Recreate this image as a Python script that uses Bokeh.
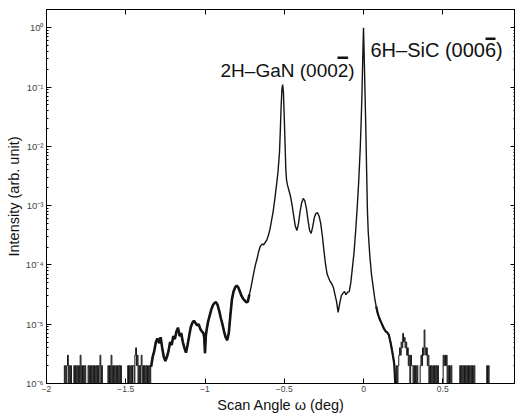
import numpy as np
from bokeh.plotting import figure
from bokeh.models import (LinearAxis, LogAxis, FixedTicker, CustomJSTickFormatter,
                          Label, Range1d)
from bokeh.embed import file_html
from bokeh.resources import INLINE

# ---------------- data ----------------
# noise floor (counts in units of 1e-6) left of the signal, sampled every 0.005 deg
left_start = -1.89
left_step = 0.005
left_counts = [2, 1, 2, 1, 2, 3, 1, 2, 1, 2,
               1, 1, 1, 2, 1, 2, 1, 2, 1, 2,
               1, 3, 1, 2, 1, 2, 1, 2, 1, 1,
               1, 2, 1, 2, 1, 2, 1, 2, 1, 2,
               1, 2, 1, 2, 1, 2, 3, 1, 2, 1,
               1, 1, 1, 1, 1, 1, 2, 1, 2, 1,
               3, 1, 2, 1, 2, 1, 2, 1, 2, 1,
               2, 1, 2, 1, 1, 1, 1, 1, 1, 1,
               1, 2, 1, 2, 1, 2, 1, 2, 2, 1,
               3, 4, 2, 3, 1, 2, 1, 2, 3, 1,
               2, 1, 2, 1, 2, 1, 2, 1, 2, 1]

# main signal: scan angle (deg) and log10(intensity)
main_x = [-1.34, -1.33, -1.32, -1.31, -1.30, -1.29, -1.28, -1.27, -1.26, -1.25,
          -1.24, -1.23, -1.22, -1.21, -1.20, -1.19, -1.18, -1.17, -1.16, -1.15,
          -1.14, -1.13, -1.12, -1.11, -1.10, -1.09, -1.08, -1.07, -1.06, -1.05,
          -1.04, -1.03, -1.02, -1.01, -1.005, -1.00, -0.995, -0.99, -0.98, -0.97,
          -0.96, -0.95, -0.94, -0.93, -0.92, -0.91, -0.90, -0.89, -0.88, -0.87,
          -0.86, -0.85, -0.84, -0.83, -0.82, -0.81, -0.80, -0.79, -0.78, -0.77,
          -0.76, -0.75, -0.74, -0.73, -0.72, -0.71, -0.70, -0.69, -0.68, -0.67,
          -0.66, -0.65, -0.64, -0.63, -0.62, -0.61, -0.60, -0.59, -0.58, -0.57,
          -0.56, -0.55, -0.54, -0.53, -0.525, -0.52, -0.515, -0.51, -0.505, -0.50,
          -0.495, -0.49, -0.485, -0.48, -0.47, -0.46, -0.45, -0.44, -0.43, -0.42,
          -0.41, -0.40, -0.39, -0.38, -0.37, -0.36, -0.35, -0.34, -0.33, -0.32,
          -0.31, -0.30, -0.29, -0.28, -0.27, -0.26, -0.25, -0.24, -0.23, -0.22,
          -0.21, -0.20, -0.19, -0.18, -0.17, -0.16, -0.15, -0.14, -0.13, -0.12,
          -0.11, -0.10, -0.09, -0.08, -0.07, -0.06, -0.05, -0.04, -0.03, -0.02,
          -0.015, -0.01, -0.005, 0.0, 0.005, 0.01, 0.015, 0.02, 0.025, 0.03,
          0.04, 0.05, 0.06, 0.07, 0.08, 0.09, 0.10, 0.11, 0.12, 0.13,
          0.14, 0.15, 0.16, 0.17, 0.18, 0.19, 0.195, 0.20]
main_log = [-5.72, -5.55, -5.45, -5.30, -5.24, -5.32, -5.22, -5.40, -5.55, -5.62,
            -5.55, -5.45, -5.30, -5.35, -5.20, -5.25, -5.12, -5.06, -5.20, -5.15,
            -5.30, -5.40, -5.48, -5.35, -5.20, -5.05, -4.98, -4.94, -4.98, -5.02,
            -5.00, -5.08, -5.12, -5.15, -5.22, -5.49, -5.20, -5.10, -4.95, -4.85,
            -4.75, -4.68, -4.64, -4.63, -4.68, -4.78, -4.90, -5.00, -5.12, -5.22,
            -5.27, -5.15, -4.85, -4.58, -4.45, -4.38, -4.35, -4.38, -4.45, -4.52,
            -4.57, -4.60, -4.63, -4.62, -4.50, -4.38, -4.24, -4.10, -3.98, -3.88,
            -3.76, -3.68, -3.65, -3.66, -3.62, -3.58, -3.50, -3.40, -3.25, -3.10,
            -2.90, -2.68, -2.45, -2.10, -1.75, -1.35, -1.05, -0.96, -1.10, -1.50,
            -1.95, -2.40, -2.58, -2.65, -2.75, -2.85, -3.00, -3.18, -3.35, -3.42,
            -3.30, -3.10, -2.95, -2.88, -2.92, -3.05, -3.25, -3.42, -3.47, -3.35,
            -3.20, -3.13, -3.12, -3.18, -3.30, -3.50, -3.75, -3.98, -4.15, -4.22,
            -4.28, -4.32, -4.38, -4.50, -4.62, -4.80, -4.65, -4.52, -4.48, -4.45,
            -4.50, -4.46, -4.45, -4.30, -4.05, -3.80, -3.45, -3.05, -2.58, -2.00,
            -1.60, -1.15, -0.55, 0.0, -0.55, -1.15, -1.75, -2.45, -3.10, -3.45,
            -3.85, -4.15, -4.35, -4.55, -4.70, -4.82, -4.90, -4.96, -5.02, -5.08,
            -5.12, -5.14, -5.18, -5.30, -5.44, -5.60, -5.70, -6.00]

# noise floor (counts in units of 1e-6) right of the signal, every 0.005 deg
right_start = 0.205
right_step = 0.005
right_counts = [1, 2, 1, 2, 3, 4, 3, 5, 4, 7,
                5, 6, 4, 5, 3, 4, 2, 3, 1, 3,
                2, 2, 1, 2, 1, 2, 1, 2, 1, 1,
                1, 2, 3, 2, 4, 3, 8, 4, 3, 4,
                2, 3, 1, 2, 1, 2, 1, 2, 1, 2,
                1, 2, 1, 2, 1, 1, 1, 1, 1, 1,
                3, 2, 3, 2, 3, 1, 2, 1, 2, 1,
                2, 1, 1, 1, 1, 1, 1, 1, 1, 1,
                1, 2, 1, 2, 1, 2, 1, 2, 1, 2,
                1, 2, 1, 2, 1, 2, 1, 2, 1, 2,
                1, 1, 1, 1, 1, 1, 1, 1, 1, 1,
                1, 1, 1, 1, 1, 2, 1, 2, 1, 1]

x_ticks = [-2, -1.5, -1, -0.5, 0, 0.5]
y_ticks = [1e-6, 1e-5, 1e-4, 1e-3, 1e-2, 1e-1, 1e0]
y_minor = [m * 10.0 ** e for e in range(-6, 1) for m in range(2, 10)]

gan_label = "2H\u2013GaN (0002)"
sic_label = "6H\u2013SiC (0006)"
x_title = "Scan Angle \u03c9 (deg)"
y_title = "Intensity (arb. unit)"

# ---------------- assemble ----------------
left_x = [left_start + i * left_step for i in range(len(left_counts))]
right_x = [right_start + i * right_step for i in range(len(right_counts))]
left_y = [c * 1e-6 for c in left_counts]
right_y = [c * 1e-6 for c in right_counts]
main_y = [10.0 ** v for v in main_log]

FONT = "Liberation Sans"
px_per_deg = 158.5
px_per_decade = 59.3
frame_w, frame_h = 469, 374
x0 = -2.0
x1 = x0 + frame_w / px_per_deg
y0 = 1e-6
y1 = 10 ** (-6 + frame_h / px_per_decade)

p = figure(frame_width=frame_w, frame_height=frame_h, y_axis_type="log",
           x_range=Range1d(x0, x1), y_range=Range1d(y0, y1),
           output_backend="svg", toolbar_location=None,
           min_border_left=46, min_border_right=0, min_border_top=9,
           min_border_bottom=33)
p.background_fill_color = "white"
p.border_fill_color = "white"
p.outline_line_color = "black"
p.outline_line_width = 1
p.xgrid.visible = False
p.ygrid.visible = False

INK = "#141414"
p.step(left_x + [main_x[0]], left_y + [main_y[0]], mode="center",
       line_color=INK, line_width=1.0)
p.line(main_x, main_y, line_color=INK, line_width=1.4)
# the low-count stretches of the scan look thicker because of counting noise
lo_l = [i for i, v in enumerate(main_x) if v <= -0.72]
lo_r = [i for i, v in enumerate(main_x) if v >= 0.08]
p.line([main_x[i] for i in lo_l], [main_y[i] for i in lo_l],
       line_color=INK, line_width=2.6)
p.line([main_x[i] for i in lo_r], [main_y[i] for i in lo_r],
       line_color=INK, line_width=2.2)
p.step([main_x[-1]] + right_x, [main_y[-1]] + right_y, mode="center",
       line_color=INK, line_width=1.0)

sup = CustomJSTickFormatter(code="""
const m = {'0':'\u2070','1':'\u00b9','2':'\u00b2','3':'\u00b3','4':'\u2074','5':'\u2075','6':'\u2076','7':'\u2077','8':'\u2078','9':'\u2079','-':'\u207b'};
const e = String(Math.round(Math.log10(tick)));
let s = '';
for (const ch of e) { s += m[ch]; }
return '10' + s;
""")
xfmt = CustomJSTickFormatter(code="""
return String(tick).replace('-', '\u2212');
""")

xticker = FixedTicker(ticks=x_ticks)
yticker = FixedTicker(ticks=y_ticks, minor_ticks=y_minor)

def style(ax):
    ax.axis_line_color = "black"
    ax.major_tick_in = 5
    ax.major_tick_out = 0
    ax.minor_tick_in = 2
    ax.minor_tick_out = 0
    ax.major_tick_line_color = "black"
    ax.minor_tick_line_color = "black"
    ax.major_label_text_font = FONT
    ax.major_label_text_font_size = "8px"
    ax.major_label_text_color = "#444444"
    ax.axis_label_text_font = FONT
    ax.axis_label_text_font_size = "14.5px"
    ax.axis_label_text_font_style = "normal"
    ax.axis_label_text_color = "#111111"

xa = p.xaxis[0]
style(xa)
xa.ticker = xticker
xa.formatter = xfmt
xa.minor_tick_line_color = None
xa.axis_label = x_title
xa.major_label_text_font_size = "8.5px"
xa.major_label_standoff = 2
xa.axis_label_standoff = 2

ya = p.yaxis[0]
style(ya)
ya.ticker = yticker
ya.formatter = sup
ya.axis_label = y_title
ya.major_label_text_font_size = "9.5px"
ya.major_label_standoff = 3
ya.axis_label_standoff = 1

top = LinearAxis(ticker=xticker)
style(top)
top.minor_tick_line_color = None
top.major_label_text_font_size = "1px"
top.major_label_text_color = None
top.major_label_standoff = 0
p.add_layout(top, "above")

right = LogAxis(ticker=yticker)
style(right)
right.major_label_text_font_size = "1px"
right.major_label_text_color = None
right.major_label_standoff = 0
p.add_layout(right, "right")

# peak labels (positions in data units)
gan_x, gan_y = -0.902, 10 ** -0.73
sic_x, sic_y = 0.044, 10 ** -0.38
p.add_layout(Label(x=gan_x, y=gan_y, text=gan_label, text_font=FONT,
                   text_font_size="19px", text_color="#111111",
                   text_baseline="alphabetic"))
p.add_layout(Label(x=sic_x, y=sic_y, text=sic_label, text_font=FONT,
                   text_font_size="20px", text_color="#111111",
                   text_baseline="alphabetic"))
# Miller-Bravais "bar" over the last index
p.segment(x0=[-0.164, 0.770], y0=[10 ** -0.508, 10 ** -0.187],
          x1=[-0.097, 0.833], y1=[10 ** -0.508, 10 ** -0.187],
          line_color="#111111", line_width=2.5)

open("out.html", "w").write(file_html(p, INLINE))
